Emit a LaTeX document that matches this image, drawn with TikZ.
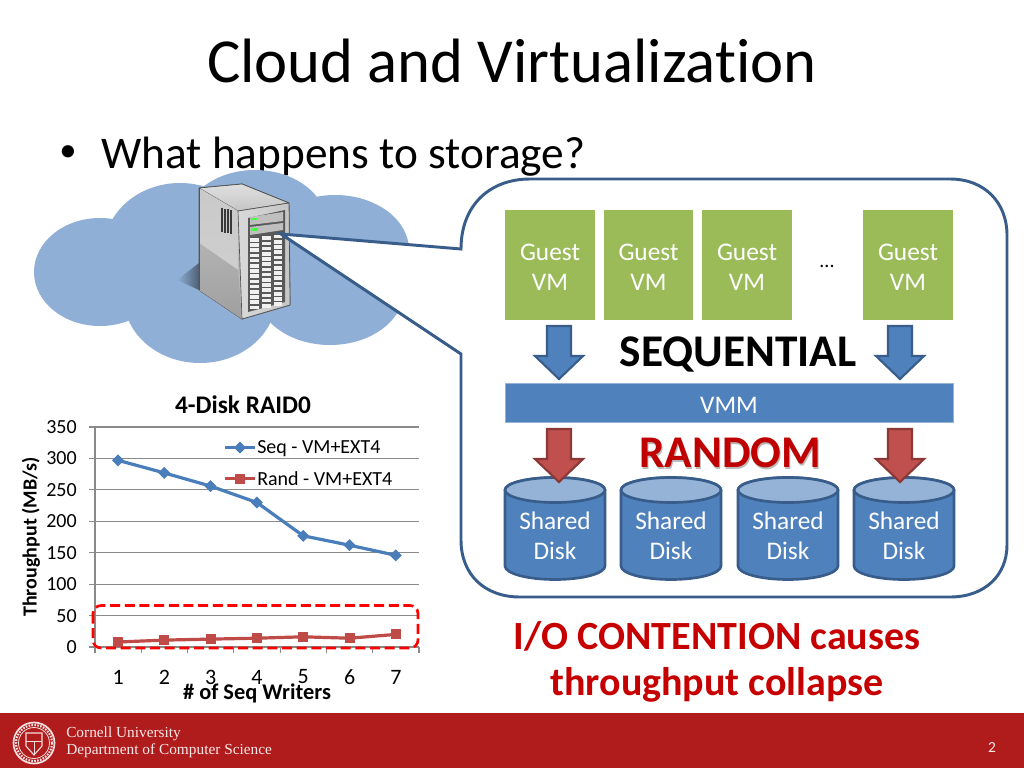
\documentclass[tikz,border=0pt]{standalone}
\usepackage{fontspec}
\setmainfont{Carlito}[Ligatures=NoCommon]
\newfontfamily\serifseal{Liberation Serif}
\usetikzlibrary{calc,shapes.geometric}
\definecolor{cloudblue}{HTML}{8FAFD6}
\definecolor{lineblue}{HTML}{385D8A}
\definecolor{fillblue}{HTML}{4F81BD}
\definecolor{disktop}{HTML}{95B3D7}
\definecolor{guestgreen}{HTML}{9BBB59}
\definecolor{redarrow}{HTML}{C0504D}
\definecolor{darkred}{HTML}{8C3836}
\definecolor{footred}{HTML}{B01C1C}
\definecolor{textred}{HTML}{C00000}
\definecolor{gridgray}{HTML}{8A8A8A}
\definecolor{seriesred}{HTML}{BE4B48}
\definecolor{seriesblue}{HTML}{4A7EBB}
\newcommand{\fsz}[1]{\fontsize{#1}{#1}\selectfont}
\newcommand{\boxfont}{\fontsize{19}{22.5}\selectfont}
\newcommand{\blockarrow}[4]{% x, ytop, fill, stroke
  \draw[line width=1.6pt,draw=#4,fill=#3,line join=miter]
    ({#1-12},#2) -- ({#1+12},#2) -- ({#1+12},{#2+30}) -- ({#1+24},{#2+30}) -- (#1,{#2+53})
    -- ({#1-24},{#2+30}) -- ({#1-12},{#2+30}) -- cycle;}
\newcommand{\diskshape}[2]{% centre x, name
  \draw[line width=2pt,draw=lineblue,fill=fillblue]
    ({#1-50},490) -- ({#1-50},566) arc[start angle=180,end angle=0,x radius=50,y radius=13.5]
    -- ({#1+50},490) arc[start angle=0,end angle=-180,x radius=50,y radius=12.5] -- cycle;
  \draw[line width=2pt,draw=lineblue,fill=disktop] (#1,490) ellipse[x radius=50,y radius=12.5];
  \node[whitetxt,align=center] (#2) at (#1,536) {Shared\\Disk};}
\newcommand{\guestbox}[3]{% x0, x1, name
  \fill[guestgreen] (#1,210) rectangle (#2,320);
  \node[whitetxt,align=center] (#3) at ({(#1+#2)/2},267) {Guest\\VM};}
\tikzset{
  whitetxt/.style={text=white,font=\boxfont,inner sep=0pt},
  axislabel/.style={font=\fsz{15},inner sep=0pt,text=black},
  boldlabel/.style={font=\fsz{19}\bfseries,inner sep=0pt,text=black},
  gridline/.style={draw=gridgray,line width=0.9pt},
  seqline/.style={draw=seriesblue,line width=2.4pt,line join=round},
  randline/.style={draw=seriesred,line width=2.4pt,line join=round},
  seqmark/.style={fill=seriesblue,draw=none},
  randmark/.style={fill=seriesred,draw=none}
}
\newcommand{\seqdot}[2]{\fill[seqmark] ({#1-6},#2) -- (#1,{#2-6}) -- ({#1+6},#2) -- (#1,{#2+6}) -- cycle;}
\newcommand{\randdot}[2]{\fill[randmark] ({#1-5},{#2-5}) rectangle ({#1+5},{#2+5});}
\begin{document}
\begin{tikzpicture}[x=0.75pt,y=-0.75pt]
\useasboundingbox (0,0) rectangle (1024,768);
\fill[white] (0,0) rectangle (1024,768);

% title
\node[anchor=base,inner sep=0pt,font=\fsz{47}] (title) at (512,82) {Cloud and Virtualization};
\node[inner sep=0pt,font=\fsz{26}] (bullet) at (68,154) {•};
\node[anchor=base west,inner sep=0pt,font=\fsz{34}] (question) at (101,168.5) {What happens to storage?};

% cloud
\fill[cloudblue] (100,272) ellipse[x radius=66,y radius=54];
\fill[cloudblue] (180,250) ellipse[x radius=76,y radius=67];
\fill[cloudblue] (255,225) ellipse[x radius=72,y radius=55];
\fill[cloudblue] (335,250) ellipse[x radius=74,y radius=55];
\fill[cloudblue] (330,290) ellipse[x radius=74,y radius=55];
\fill[cloudblue] (200,298) ellipse[x radius=76,y radius=65];
\fill[cloudblue] (150,240) -- (330,240) -- (330,310) -- (150,310) -- cycle;

% server shadow
\shade[left color=cloudblue,right color=cloudblue!55!black]
  (177,280) -- (199,263) -- (199,290) -- cycle;

% server
\begin{scope}[line join=round]
\fill[gray!55!white,draw=gray!70!black,line width=0.7pt]
  (199,188) -- (242,184) -- (289,203) -- (290,305) -- (242,319) -- (199,290) -- cycle;
\shade[top color=gray!25!white,bottom color=gray!45!white,draw=gray!60!black,line width=0.5pt]
  (199,188) -- (242,184) -- (289,203) -- (238,211) -- cycle;
\shade[top color=gray!42!white,bottom color=gray!38!white]
  (199,188) -- (238,211) -- (238,270) -- (199,243) -- cycle;
\shade[top color=gray!60!white,bottom color=gray!75!white]
  (199,243) -- (238,270) -- (242,319) -- (199,290) -- cycle;
\draw[gray!65!black,line width=0.7pt] (199,188) -- (199,290);
\shade[left color=gray!30!white,right color=gray!45!white,draw=gray!65!black,line width=0.5pt]
  (238,211) -- (289,203) -- (290,305) -- (242,319) -- cycle;
\fill[gray!70!black] (248,218) -- (285,210) -- (285,302) -- (248,312) -- cycle;
% vents
\foreach \vx in {222,225,228,231}{
  \draw[gray!45!black,line width=0.8pt] (\vx,{207+\vx*0.3-66}) -- (\vx,{231+\vx*0.3-66});
}
% top bars
\fill[gray!50!white] (250,217) -- (283,212) -- (283,221) -- (250,225) -- cycle;
\fill[gray!50!white] (250,227) -- (283,223) -- (283,230) -- (250,235) -- cycle;
\fill[green!75!white] (251,217.5) rectangle (257,220);
\fill[green!75!white] (251,228) rectangle (258,231);
% drive bays
\foreach \col/\cx in {0/250,1/262,2/273.5}{
  \foreach \row in {0,...,13}{
    \pgfmathsetmacro{\ya}{238+\row*5.2-\col*1.6}
    \fill[gray!12!white] (\cx,\ya) rectangle ({\cx+8.5},{\ya+3.6});
  }
}
\end{scope}

% callout with pointer
\coordinate (tip) at (281,234);
\draw[line width=2.2pt,draw=lineblue,fill=white,line join=miter]
  (tip) -- (461,249)
  .. controls (461,205) and (490,179) .. (530,179)
  -- (950,179)
  .. controls (985,179) and (1007,203) .. (1007,235)
  -- (1007,545)
  .. controls (1007,575) and (985,597) .. (950,597)
  -- (520,597)
  .. controls (485,597) and (461,575) .. (461,540)
  -- (461,354) -- cycle;

% guests
\guestbox{505}{595}{guesta}
\guestbox{604}{693}{guestb}
\guestbox{702}{792}{guestc}
\guestbox{863}{953}{guestd}
\node[inner sep=0pt,font=\fsz{15},text=black] (dots) at (827,266) {...};

% sequential
\blockarrow{559}{326}{fillblue}{lineblue}
\blockarrow{900}{326}{fillblue}{lineblue}
\node[inner sep=0pt,font=\fsz{34}\bfseries] (seq) at (738,354) {SEQUENTIAL};

% VMM
\node[draw=disktop,line width=0.6pt,fill=fillblue,minimum width=336pt,minimum height=29pt,inner sep=0pt,
  text=white] (vmm) at (729,403) {};
\node[inner sep=0pt,font=\boxfont,text=white] (vmmtext) at (729,405) {VMM};

% random
\node[inner sep=0pt,font=\fsz{34}\bfseries,text=gray!55!white] (randomshadow) at (731,454.5) {RANDOM};
\node[inner sep=0pt,font=\fsz{34}\bfseries,text=textred] (random) at (730,453) {RANDOM};

% disks
\diskshape{555}{diska}
\diskshape{671}{diskb}
\diskshape{788}{diskc}
\diskshape{904}{diskd}
% arrows overlap disks
\blockarrow{559}{429}{redarrow}{darkred}
\blockarrow{900}{429}{redarrow}{darkred}

% collapse text
\node[inner sep=0pt,font=\fsz{30}\bfseries,text=textred!90!red] (io) at (717,636) {I/O CONTENTION causes};
\node[inner sep=0pt,font=\fsz{30}\bfseries,text=textred!90!red] (tp) at (717,685) {throughput collapse};

% chart
\node[boldlabel] (ctitle) at (243,405) {4-Disk RAID0};
\foreach \v in {0,50,...,350}{
  \pgfmathsetmacro{\yy}{647-\v*0.62857}
  \draw[gridline] (89,\yy) -- (419,\yy);
  \node[axislabel,anchor=east] (yl\v) at (77,\yy) {\v};
}
\draw[gridline] (95,427) -- (95,653);
\foreach \k in {1,...,7}{
  \pgfmathsetmacro{\xx}{95+\k*46.29}
  \draw[gridline] (\xx,647) -- (\xx,653);
  \pgfmathsetmacro{\lx}{95+(\k-0.5)*46.29}
  \node[axislabel,font=\fsz{16.5}] (xl\k) at (\lx,677) {\k};
}
\node[boldlabel,rotate=90,font=\fsz{15}\bfseries] (ylab) at (31,537) {Throughput (MB/s)};
\node[boldlabel,font=\fsz{16.8}\bfseries] (xlab) at (257,693) {\# of Seq Writers};

\draw[seqline] (118,460.3) -- (164.3,472.9) -- (210.6,486.1) -- (256.9,502.5) -- (303.2,535.8) -- (349.5,545.2) -- (395.8,555.3);
\seqdot{118}{460.3}\seqdot{164.3}{472.9}\seqdot{210.6}{486.1}\seqdot{256.9}{502.5}\seqdot{303.2}{535.8}\seqdot{349.5}{545.2}\seqdot{395.8}{555.3}
\draw[randline] (118,642) -- (164.3,640.1) -- (210.6,639.1) -- (256.9,638.2) -- (303.2,636.8) -- (349.5,638.2) -- (395.8,634.4);
\randdot{118}{642}\randdot{164.3}{640.1}\randdot{210.6}{639.1}\randdot{256.9}{638.2}\randdot{303.2}{636.8}\randdot{349.5}{638.2}\randdot{395.8}{634.4}

% legend
\draw[seqline] (225,447.5) -- (255,447.5);
\seqdot{240}{447.5}
\node[axislabel,anchor=west] (lega) at (257,449) {Seq - VM+EXT4};
\draw[randline] (225,478.5) -- (255,478.5);
\randdot{240}{478.5}
\node[axislabel,anchor=west] (legb) at (257,478.5) {Rand - VM+EXT4};

% red dashed selection
\draw[red,line width=2pt,dash pattern=on 7.5pt off 3.5pt,rounded corners=6pt] (93,605.5) rectangle (418,648);

% footer
\fill[footred] (0,713) rectangle (1024,768);
\draw[white!85!footred,line width=1.3pt] (34,743) circle[radius=20.5];
\draw[white!85!footred,line width=0.6pt] (34,743) circle[radius=15.5];
\draw[white!85!footred,line width=0.8pt] (26,733) -- (42,733) -- (42,746) -- (34,755) -- (26,746) -- cycle;
\draw[white!85!footred,line width=0.6pt] (26,741) -- (42,741) (34,741) -- (34,755);
\draw[white!85!footred,line width=1.6pt,dash pattern=on 1.2pt off 1pt] (34,743) circle[radius=18];
\node[anchor=base west,inner sep=0pt,font=\serifseal\fsz{11.5},text=white!90!footred] (cu) at (66,737.5) {Cornell University};
\node[anchor=base west,inner sep=0pt,font=\serifseal\fsz{11.5},text=white!90!footred] (dcs) at (66,754.5) {Department of Computer Science};
\node[inner sep=0pt,font=\fsz{11.5},text=white!90!footred] (page) at (992,748) {2};
\end{tikzpicture}
\end{document}
